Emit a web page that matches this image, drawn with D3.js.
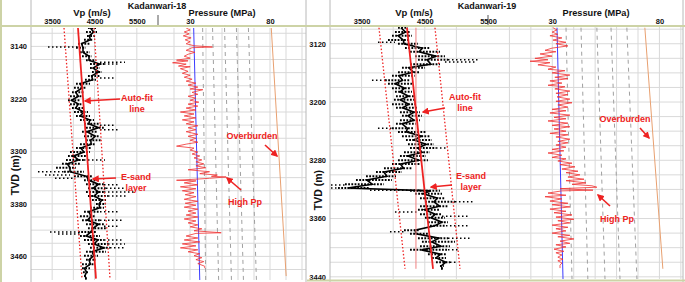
<!DOCTYPE html>
<html>
<head>
<meta charset="utf-8">
<script src="https://cdn.jsdelivr.net/npm/d3@7"></script>
<style>
body { margin: 0; background: #fff; }
svg { display: block; font-family: "Liberation Sans", Arial, sans-serif; font-weight: bold; }
</style>
</head>
<body>
<svg id="chart" width="685" height="282"></svg>
<script>

// ---- Kadanwari-18 : Vp log, [depth, low Vp, high Vp]
var vp18 = [[3112,4346,4535],[3118,4299,4559],[3124,4323,4512],[3130,4252,4464],[3136,4110,4394],[3142,4063,4299],[3149,4157,4394],[3155,4205,4441],[3161,4299,4535],[3167,4394,4724],[3173,4394,4630],[3179,4441,4677],[3185,4346,4630],[3191,4275,4535],[3197,4063,4394],[3203,4016,4299],[3210,3968,4252],[3216,3921,4205],[3222,3874,4157],[3228,3921,4205],[3234,3968,4252],[3240,4016,4346],[3246,4063,4394],[3252,4157,4488],[3258,4252,4630],[3264,4299,4724],[3270,4205,4583],[3277,4252,4630],[3283,4299,4677],[3289,4157,4535],[3295,4063,4441],[3301,3921,4394],[3307,3874,4299],[3313,3827,4252],[3319,3732,4157],[3325,3591,4063],[3331,3780,4252],[3338,4016,4441],[3344,4252,4630],[3350,4299,4724],[3356,4346,4772],[3362,4299,4724],[3368,4346,4819],[3374,4441,4772],[3380,4535,4772],[3386,4394,4724],[3392,4252,4630],[3399,4157,4535],[3405,4205,4630],[3411,4299,4724],[3417,4346,4772],[3423,4110,4535],[3429,4157,4630],[3435,4252,4724],[3441,4346,4819],[3447,4394,4866],[3453,4299,4772],[3459,4252,4583],[3465,4299,4535],[3472,4205,4488],[3478,4205,4394],[3484,4228,4346],[3490,4252,4323],[3494,4275,4323]];

// scattered Vp streaks, [depth, from Vp, to Vp]
var spread18 = [[3141,3402,4157],[3164,4630,5220],[3167,4724,5102],[3188,4630,4984],[3260,4630,4984],[3267,4630,5055],[3313,4252,4748],[3331,3165,3780],[3336,3331,3921],[3341,3567,4016],[3351,4724,5055],[3356,4772,5220],[3362,4724,5456],[3368,4819,5291],[3392,4630,5102],[3405,4630,5149],[3414,4724,5055],[3423,3449,4110],[3426,3638,4157],[3435,4724,5149],[3441,4819,5220],[3447,4866,5244]];

// pore pressure, [depth, MPa]
var pp18 = [[3112,27.6],[3115,30.1],[3118,26.4],[3121,29.5],[3124,25.8],[3127,30.7],[3130,27.0],[3133,30.1],[3136,27.6],[3139,32.5],[3141,44.0],[3142,31.3],[3146,27.6],[3149,33.1],[3152,28.8],[3155,26.4],[3158,30.1],[3161,21.6],[3162,28.8],[3165,19.1],[3167,27.6],[3170,22.8],[3171,30.1],[3174,24.0],[3178,28.8],[3181,25.2],[3184,30.1],[3187,26.4],[3190,31.3],[3193,27.6],[3196,33.7],[3199,28.8],[3202,34.9],[3205,30.1],[3206,38.0],[3210,31.3],[3213,34.9],[3216,28.8],[3219,33.7],[3222,30.1],[3225,35.5],[3228,28.8],[3231,34.9],[3234,27.6],[3237,33.7],[3240,24.0],[3243,32.5],[3246,26.4],[3249,33.7],[3252,25.2],[3255,32.5],[3258,27.6],[3261,34.9],[3264,28.8],[3267,33.7],[3270,27.6],[3274,34.9],[3277,28.8],[3280,33.7],[3283,30.1],[3286,34.9],[3289,27.6],[3292,21.6],[3295,32.5],[3298,30.1],[3301,34.9],[3304,31.3],[3307,36.1],[3310,32.5],[3313,37.4],[3316,33.7],[3319,38.6],[3322,33.7],[3325,39.8],[3328,28.8],[3331,42.2],[3334,36.1],[3336,47.1],[3338,43.4],[3339,52.6],[3341,42.2],[3342,36.1],[3344,21.6],[3345,33.7],[3348,26.4],[3351,34.9],[3354,24.0],[3357,33.7],[3360,25.2],[3363,32.5],[3366,27.0],[3369,33.7],[3373,26.4],[3376,34.9],[3379,27.0],[3382,33.7],[3385,26.4],[3388,34.9],[3391,28.8],[3394,33.7],[3397,27.6],[3400,34.9],[3403,26.4],[3406,33.7],[3409,28.8],[3412,34.9],[3415,30.1],[3418,37.4],[3421,32.5],[3424,49.5],[3425,33.7],[3429,27.6],[3432,34.9],[3435,26.4],[3438,36.1],[3441,25.2],[3444,33.7],[3447,24.0],[3450,34.9],[3453,28.8],[3456,36.1],[3459,32.5],[3462,37.4],[3465,33.7],[3468,38.6],[3471,34.9],[3475,39.2],[3478,39.2]];

var fitDepth18 = [3112, 3494];
var fitVp18 = [4110, 4535];
var fitLow18 = [3780, 4205];
var fitHigh18 = [4488, 4866];
var hydroDepth18 = [3112, 3496];
var hydro18 = [32.3, 36.1];
var overDepth18 = [3112, 3490];
var over18 = [80.8, 90.1];
var gradTop18 = [37.9, 44.1, 51.6, 59.0, 66.5];
var gradBot18 = [39.8, 47.9, 55.9, 63.4, 71.5];
var depthTicks18 = [3140, 3220, 3300, 3380, 3460];

// ---- Kadanwari-19
var vp19 = [[3098,4076,4234],[3104,4028,4266],[3109,3981,4297],[3115,3918,4266],[3120,4076,4392],[3126,4187,4582],[3131,4266,4740],[3137,4345,4819],[3142,4392,4867],[3148,4266,4740],[3153,4139,4503],[3159,4076,4424],[3164,3981,4345],[3170,3870,4266],[3175,3918,4297],[3181,3981,4266],[3186,4028,4297],[3192,4044,4329],[3197,4012,4345],[3203,3981,4360],[3208,4044,4392],[3214,4107,4424],[3219,4139,4455],[3225,4107,4424],[3230,4044,4360],[3236,3981,4329],[3241,4076,4519],[3247,4139,4582],[3252,4202,4614],[3258,4234,4645],[3263,4266,4677],[3269,4171,4582],[3274,4107,4519],[3280,4076,4550],[3285,3981,4424],[3291,3854,4297],[3296,3728,4139],[3302,3570,4044],[3307,3411,3981],[3313,3237,3854],[3318,3127,3633],[3322,4266,4740],[3326,4345,4772],[3332,4424,4819],[3337,4503,4977],[3343,4424,4867],[3348,4392,4740],[3354,4424,4772],[3359,4503,4819],[3365,4550,4867],[3370,4582,4835],[3376,4171,4424],[3381,4266,4582],[3387,4392,4867],[3392,4455,4977],[3398,4424,4898],[3403,4266,4867],[3409,4550,4835],[3414,4614,4835],[3420,4677,4898],[3425,4740,4803],[3429,4756,4788]];

var spread19 = [[3118,3759,4028],[3142,4867,5373],[3145,4819,5294],[3170,3664,3918],[3236,3759,3981],[3263,4677,4867],[3314,3016,3237],[3318,3016,3127],[3321,3633,4424],[3337,4977,5262],[3351,4028,4392],[3357,4772,5215],[3370,4835,5215],[3378,3949,4171],[3387,4867,5215],[3403,4867,5057],[3420,4898,5025]];

var pp19 = [[3098,30.3],[3101,32.2],[3104,29.9],[3107,32.6],[3109,28.9],[3112,34.5],[3115,30.3],[3118,36.4],[3120,31.7],[3123,37.3],[3126,29.9],[3129,26.6],[3131,31.7],[3134,24.3],[3137,29.9],[3140,21.9],[3142,28.0],[3144,19.6],[3146,28.9],[3149,23.3],[3152,31.7],[3155,28.0],[3157,35.9],[3160,29.9],[3163,38.2],[3166,31.2],[3168,37.3],[3171,28.9],[3174,34.5],[3177,28.0],[3179,35.9],[3182,31.2],[3185,38.2],[3188,31.7],[3190,37.3],[3193,32.2],[3196,38.2],[3199,31.7],[3201,39.2],[3204,32.6],[3207,37.3],[3210,29.9],[3212,36.4],[3215,28.9],[3218,38.2],[3221,30.8],[3223,36.4],[3226,28.0],[3229,37.3],[3232,29.9],[3234,38.2],[3237,30.8],[3240,36.4],[3243,28.9],[3245,37.3],[3248,31.7],[3251,38.2],[3254,32.6],[3256,37.3],[3259,31.7],[3262,36.4],[3265,29.9],[3267,35.4],[3270,28.0],[3273,34.5],[3276,29.9],[3278,36.4],[3281,32.6],[3284,39.2],[3286,33.6],[3289,40.6],[3292,34.5],[3295,42.0],[3297,36.4],[3300,42.9],[3303,37.3],[3306,44.8],[3308,36.4],[3311,45.7],[3313,39.2],[3315,48.5],[3317,50.8],[3318,42.0],[3319,33.6],[3321,49.0],[3322,34.5],[3325,28.0],[3328,36.4],[3330,26.6],[3333,34.5],[3336,28.9],[3339,37.3],[3341,29.9],[3344,38.2],[3347,28.9],[3350,36.4],[3352,30.8],[3355,39.2],[3358,31.7],[3361,40.1],[3363,32.6],[3366,38.2],[3369,29.9],[3372,37.3],[3374,31.7],[3377,36.4],[3380,29.9],[3383,38.2],[3385,32.6],[3388,40.1],[3391,33.6],[3394,38.2],[3396,31.7],[3399,36.4],[3402,30.8],[3405,35.4],[3407,31.7],[3410,34.5],[3413,32.6],[3416,35.0],[3418,32.6],[3421,34.5],[3424,33.6],[3428,33.6]];

var fitDepth19 = [3098, 3429];
var fitVp19 = [4218, 4630];
var fitLow19 = [3775, 4187];
var fitHigh19 = [4661, 5057];
var refVp19 = 4360;
var hydroDepth19 = [3098, 3443];
var hydro19 = [32.2, 35.0];
var overDepth19 = [3098, 3429];
var over19 = [73.2, 81.6];
var gradTop19 = [36.4, 43.4, 50.8, 57.4, 64.8];
var gradBot19 = [39.2, 46.6, 54.6, 61.6, 69.5];
var depthTicks19 = [3120, 3200, 3280, 3360, 3440];

var RED = "#ee2222";
var OLIVE = "#cdd3a6";
var GRID = "#d9d9d9";
var FONT = "Liberation Sans, Arial, sans-serif";

var svg = d3.select("#chart");

svg.append("defs").append("marker")
    .attr("id", "arrow")
    .attr("viewBox", "0 0 10 10")
    .attr("refX", 8)
    .attr("refY", 5)
    .attr("markerWidth", 4.5)
    .attr("markerHeight", 4.5)
    .attr("orient", "auto")
    .append("path")
    .attr("d", "M0,0L10,5L0,10z")
    .attr("fill", RED);

var wells = [
    {
        id: 18, name: "Kadanwari-18",
        vp: vp18, spread: spread18, pp: pp18,
        fitDepth: fitDepth18, fit: fitVp18, fitLow: fitLow18, fitHigh: fitHigh18, ref: null,
        hydroDepth: hydroDepth18, hydro: hydro18, overDepth: overDepth18, over: over18,
        gradTop: gradTop18, gradBot: gradBot18, depthTicks: depthTicks18,
        depthDomain: [3112, 3496], top: 28, bottom: 280,
        vpDomain: [3000, 6000], vpLeft: 31, vpRight: 158,
        vpTicks: [3500, 4500, 5500], vpGrid: [3500, 4000, 4500, 5000, 5500],
        pDomain: [10, 102.5], pRight: 306,
        pTicks: [30, 80], pGrid: [20, 30, 40, 50, 60, 70, 80, 90, 100],
        gridStart: 3120, gridEnd: 3480,
        tvdX: 15, tvdY: 175, titleX: 157, vpTitleX: 92, pTitleX: 222,
        notes: [
            { text: ["Auto-fit", "line"], x: 137, y: 101, from: [120, 99], to: [85, 101] },
            { text: ["E-sand", "layer"], x: 136, y: 180, from: [116, 178], to: [93, 179] },
            { text: ["Overburden"], x: 252, y: 139, from: [265, 145], to: [277, 156] },
            { text: ["High Pp"], x: 245, y: 205, from: [241, 190], to: [227, 178] }
        ]
    },
    {
        id: 19, name: "Kadanwari-19",
        vp: vp19, spread: spread19, pp: pp19,
        fitDepth: fitDepth19, fit: fitVp19, fitLow: fitLow19, fitHigh: fitHigh19, ref: refVp19,
        hydroDepth: hydroDepth19, hydro: hydro19, overDepth: overDepth19, over: over19,
        gradTop: gradTop19, gradBot: gradBot19, depthTicks: depthTicks19,
        depthDomain: [3097, 3443], top: 27, bottom: 279,
        vpDomain: [3000, 5500], vpLeft: 330, vpRight: 488,
        vpTicks: [3500, 4500, 5500], vpGrid: [3500, 4000, 4500, 5000],
        pDomain: [0, 91], pRight: 683,
        pTicks: [30, 80], pGrid: [10, 20, 30, 40, 50, 60, 70, 80, 90],
        gridStart: 3100, gridEnd: 3440,
        tvdX: 318, tvdY: 190, titleX: 487, vpTitleX: 414, pTitleX: 596,
        notes: [
            { text: ["Auto-fit", "line"], x: 465, y: 100, from: [445, 108], to: [423, 112] },
            { text: ["E-sand", "layer"], x: 471, y: 179, from: [452, 185], to: [431, 187] },
            { text: ["Overburden"], x: 625, y: 122, from: [640, 128], to: [649, 138] },
            { text: ["High Pp"], x: 617, y: 222, from: [610, 206], to: [598, 195] }
        ]
    }
];

function styleAxis(sel) {
    sel.select(".domain").remove();
    sel.selectAll("text").attr("font-size", 7.5).attr("font-weight", "bold")
        .attr("font-family", FONT).attr("fill", "#111");
}

function drawWell(w) {

    var y = d3.scaleLinear().domain(w.depthDomain).range([w.top, w.bottom]);
    var xv = d3.scaleLinear().domain(w.vpDomain).range([w.vpLeft, w.vpRight]);
    var xp = d3.scaleLinear().domain(w.pDomain).range([w.vpRight, w.pRight]);

    var g = svg.append("g").attr("class", "well-" + w.id);

    g.append("clipPath").attr("id", "clip" + w.id)
        .append("rect")
        .attr("x", w.vpLeft).attr("y", w.top)
        .attr("width", w.pRight - w.vpLeft).attr("height", w.bottom - w.top);

    // grid
    var hGrid = d3.range(w.gridStart, w.gridEnd + 1, 20);
    g.selectAll(".hgrid").data(hGrid).enter().append("line")
        .attr("x1", w.vpLeft).attr("x2", w.pRight)
        .attr("y1", function (d) { return y(d); })
        .attr("y2", function (d) { return y(d); })
        .attr("stroke", GRID).attr("stroke-width", 1);

    g.selectAll(".vgrid").data(w.vpGrid).enter().append("line")
        .attr("x1", function (d) { return xv(d); })
        .attr("x2", function (d) { return xv(d); })
        .attr("y1", w.top).attr("y2", w.bottom)
        .attr("stroke", GRID).attr("stroke-width", 1);

    g.selectAll(".pgrid").data(w.pGrid).enter().append("line")
        .attr("x1", function (d) { return xp(d); })
        .attr("x2", function (d) { return xp(d); })
        .attr("y1", w.top).attr("y2", w.bottom)
        .attr("stroke", GRID).attr("stroke-width", 1);

    var plot = g.append("g").attr("clip-path", "url(#clip" + w.id + ")");

    // pressure gradient lines (dashed)
    w.gradTop.forEach(function (p, i) {
        plot.append("line")
            .attr("x1", xp(p)).attr("y1", y(w.hydroDepth[0]))
            .attr("x2", xp(w.gradBot[i])).attr("y2", y(w.hydroDepth[1]))
            .attr("stroke", "#a0a0a0").attr("stroke-width", 1)
            .attr("stroke-dasharray", "4,4");
    });

    // Vp: scattered streaks
    plot.selectAll(".spread").data(w.spread).enter().append("line")
        .attr("x1", function (d) { return xv(d[1]); })
        .attr("x2", function (d) { return xv(d[2]); })
        .attr("y1", function (d) { return y(d[0]); })
        .attr("y2", function (d) { return y(d[0]); })
        .attr("stroke", "#000").attr("stroke-width", 1.5)
        .attr("stroke-dasharray", "1.5,2.5");

    // Vp: dense cloud at each sample
    plot.selectAll(".band").data(w.vp).enter().append("line")
        .attr("x1", function (d) { return xv(d[1]); })
        .attr("x2", function (d) { return xv(d[2]); })
        .attr("y1", function (d) { return y(d[0]); })
        .attr("y2", function (d) { return y(d[0]); })
        .attr("stroke", "#000").attr("stroke-width", 2)
        .attr("stroke-dasharray", "1.8,1.4");

    // jagged core through the cloud
    plot.append("path")
        .attr("d", d3.line()
            .x(function (d, i) {
                var t = i % 2 === 0 ? 0.3 : 0.7;
                return xv(d[1] + (d[2] - d[1]) * t);
            })
            .y(function (d) { return y(d[0]); })(w.vp))
        .attr("fill", "none")
        .attr("stroke", "#000")
        .attr("stroke-width", 1.6);

    // auto-fit line and bounds
    var fitLine = function (vals) {
        return d3.line()
            .x(function (d) { return xv(d); })
            .y(function (d, i) { return y(w.fitDepth[i]); })(vals);
    };
    if (w.ref !== null) {
        plot.append("line")
            .attr("x1", xv(w.ref)).attr("x2", xv(w.ref))
            .attr("y1", y(w.fitDepth[0])).attr("y2", y(w.fitDepth[1]))
            .attr("stroke", "#f08080").attr("stroke-width", 1);
    }
    [w.fitLow, w.fitHigh].forEach(function (vals) {
        plot.append("path").attr("d", fitLine(vals))
            .attr("fill", "none").attr("stroke", RED)
            .attr("stroke-width", 1.3).attr("stroke-dasharray", "1.5,2");
    });
    plot.append("path").attr("d", fitLine(w.fit))
        .attr("fill", "none").attr("stroke", RED).attr("stroke-width", 1.8);

    // pressure curves
    plot.append("line")
        .attr("x1", xp(w.over[0])).attr("y1", y(w.overDepth[0]))
        .attr("x2", xp(w.over[1])).attr("y2", y(w.overDepth[1]))
        .attr("stroke", "#e8a070").attr("stroke-width", 1);

    plot.append("line")
        .attr("x1", xp(w.hydro[0])).attr("y1", y(w.hydroDepth[0]))
        .attr("x2", xp(w.hydro[1])).attr("y2", y(w.hydroDepth[1]))
        .attr("stroke", "#3b3bff").attr("stroke-width", 1);

    plot.append("path")
        .attr("d", d3.line()
            .x(function (d) { return xp(d[1]); })
            .y(function (d) { return y(d[0]); })(w.pp))
        .attr("fill", "none").attr("stroke", "#f03030").attr("stroke-width", 0.8);

    // frame lines
    [w.vpLeft, w.pRight].forEach(function (xx) {
        g.append("line")
            .attr("x1", xx).attr("x2", xx).attr("y1", 0).attr("y2", 282)
            .attr("stroke", "#b8b8b8").attr("stroke-width", 1);
    });
    g.append("line")
        .attr("x1", w.vpRight).attr("x2", w.vpRight).attr("y1", 15).attr("y2", 26)
        .attr("stroke", "#555").attr("stroke-width", 1);

    // axes
    var ga = g.append("g").attr("transform", "translate(" + w.vpLeft + ",0)")
        .call(d3.axisLeft(y).tickValues(w.depthTicks).tickSize(0).tickPadding(4)
            .tickFormat(d3.format("d")));
    styleAxis(ga);

    var gv = g.append("g").attr("transform", "translate(0,27)")
        .call(d3.axisTop(xv).tickValues(w.vpTicks).tickSize(0).tickPadding(3)
            .tickFormat(d3.format("d")));
    styleAxis(gv);

    var gp = g.append("g").attr("transform", "translate(0,27)")
        .call(d3.axisTop(xp).tickValues(w.pTicks).tickSize(0).tickPadding(3));
    styleAxis(gp);

    // titles
    g.append("text").attr("x", w.vpTitleX).attr("y", 16).attr("text-anchor", "middle")
        .attr("font-size", 9.5).attr("fill", "#111").text("Vp (m/s)");
    g.append("text").attr("x", w.pTitleX).attr("y", 16).attr("text-anchor", "middle")
        .attr("font-size", 9.2).attr("fill", "#111").text("Pressure (MPa)");
    g.append("text").attr("x", w.titleX).attr("y", 9).attr("text-anchor", "middle")
        .attr("font-size", 9).attr("fill", "#111").text(w.name);
    g.append("text")
        .attr("transform", "translate(" + w.tvdX + "," + w.tvdY + ") rotate(-90)")
        .attr("text-anchor", "middle").attr("dy", "0.35em")
        .attr("font-size", 10.5).attr("fill", "#111").text("TVD (m)");

    // annotations
    w.notes.forEach(function (n) {
        g.append("line")
            .attr("x1", n.from[0]).attr("y1", n.from[1])
            .attr("x2", n.to[0]).attr("y2", n.to[1])
            .attr("stroke", RED).attr("stroke-width", 1.6)
            .attr("marker-end", "url(#arrow)");
        n.text.forEach(function (t, i) {
            g.append("text").attr("x", n.x).attr("y", n.y + i * 11)
                .attr("text-anchor", "middle").attr("font-size", 9)
                .attr("fill", RED).text(t);
        });
    });
}

wells.forEach(drawWell);

// outer frame
svg.append("line").attr("x1", 0).attr("x2", 685).attr("y1", 26).attr("y2", 26)
    .attr("stroke", OLIVE).attr("stroke-width", 2);
svg.append("line").attr("x1", 1).attr("x2", 1).attr("y1", 0).attr("y2", 282)
    .attr("stroke", OLIVE).attr("stroke-width", 2);
svg.append("line").attr("x1", 307).attr("x2", 685).attr("y1", 280.5).attr("y2", 280.5)
    .attr("stroke", OLIVE).attr("stroke-width", 2);

</script>
</body>
</html>
